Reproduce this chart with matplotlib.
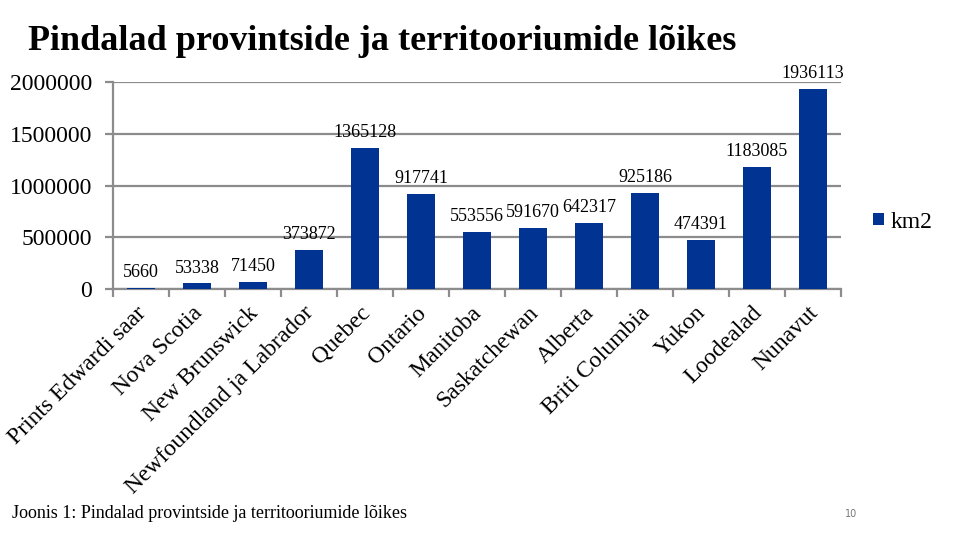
import matplotlib
matplotlib.use("Agg")
import matplotlib.pyplot as plt

categories = ["Prints Edwardi saar", "Nova Scotia", "New Brunswick", "Newfoundland ja Labrador",
              "Quebec", "Ontario", "Manitoba", "Saskatchewan", "Alberta", "Briti Columbia",
              "Yukon", "Loodealad", "Nunavut"]
values = [5660, 53338, 71450, 373872, 1365128, 917741, 553556, 591670, 642317, 925186,
          474391, 1183085, 1936113]
yticks = [0, 500000, 1000000, 1500000, 2000000]
series_name = "km2"

plt.rcParams['font.family'] = ['Liberation Serif', 'DejaVu Serif']

fig = plt.figure(figsize=(9.6, 5.4), dpi=100)
ax = fig.add_axes([113/960, 1-289/540, (841-113)/960, (289-82)/540])

bar_color = '#003392'
grid_color = '#8c8c8c'
x = list(range(len(categories)))
bars = ax.bar(x, values, width=0.5, color=bar_color, label=series_name, zorder=3)

for xi, v in zip(x, values):
    ax.annotate(str(v), (xi, v), xytext=(0, 5), textcoords='offset points',
                ha='center', va='bottom', fontsize=13, zorder=4)

ax.set_xlim(-0.5, len(categories) - 0.5)
ax.set_ylim(0, 2000000)
ax.set_yticks(yticks)
ax.set_yticklabels([str(t) for t in yticks], fontsize=17)
ax.yaxis.grid(True, color=grid_color, linewidth=1.6, zorder=0)
ax.set_axisbelow(True)

ax.set_xticks([i - 0.5 for i in range(len(categories) + 1)], minor=False)
ax.set_xticklabels([])
ax.tick_params(axis='x', direction='out', length=6, width=1.6, color=grid_color)
ax.tick_params(axis='y', direction='out', length=6, width=1.6, color=grid_color, pad=9)

for xi, lab in zip(x, categories):
    ax.text(xi - 0.1, -0.065, lab, transform=ax.get_xaxis_transform(), rotation=45,
            rotation_mode='anchor', ha='right', va='top', fontsize=17)

for s in ['top', 'right']:
    ax.spines[s].set_visible(False)
for s in ['left', 'bottom']:
    ax.spines[s].set_color(grid_color)
    ax.spines[s].set_linewidth(1.6)

leg = fig.legend(handles=[bars], labels=[series_name], loc='center left',
                 bbox_to_anchor=(852/960, 1-222/540), frameon=False, fontsize=17,
                 handlelength=0.45, handleheight=0.45, handletextpad=0.3)

fig.text(28/960, 1-41/540, "Pindalad provintside ja territooriumide lõikes",
         fontsize=26, fontweight='bold', ha='left', va='center')
fig.text(12/960, 1-513/540, "Joonis 1: Pindalad provintside ja territooriumide lõikes",
         fontsize=13, ha='left', va='center')
fig.text(851/960, 1-514/540, "10", fontsize=7, ha='center', va='center',
         color='#777777', family='DejaVu Sans')

fig.savefig("out.png", dpi=100)
